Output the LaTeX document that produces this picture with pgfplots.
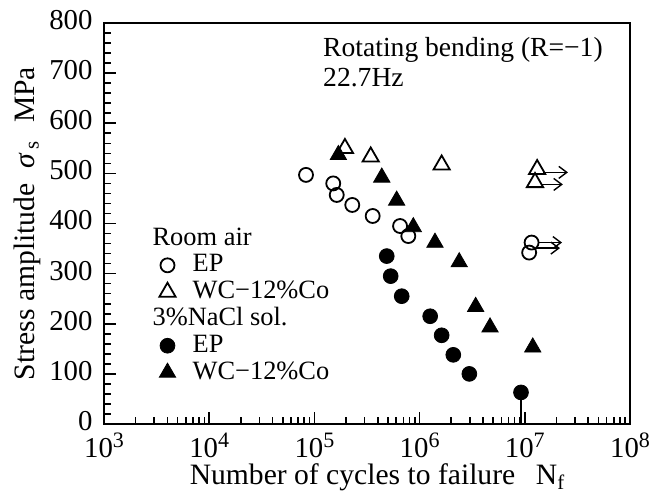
\documentclass[border=0pt]{standalone}
\usepackage{fontspec}
\setmainfont{Liberation Serif}
\usepackage{pgfplots}
\pgfplotsset{compat=1.18}
\usetikzlibrary{arrows.meta}
\newcommand\tp[1]{10\raisebox{5pt}{\fontsize{11}{11}\selectfont #1}}
\newcommand\fnt{\fontsize{13.6}{15}\selectfont}
\newcommand\tfnt{\fontsize{14.4}{16}\selectfont}
\newcommand\lfnt{\fontsize{14.8}{17}\selectfont}
\begin{document}
\fnt
\begin{tikzpicture}
\path[use as bounding box] (-52pt,-34.5pt) rectangle (277pt,212pt);
\begin{axis}[
  at={(0pt,0pt)}, anchor=south west,
  scale only axis, width=263pt, height=200.5pt,
  xmode=log, xmin=1e3, xmax=1e8, ymin=0, ymax=800,
  xtick={1e3,1e4,1e5,1e6,1e7,1e8},
  xticklabels={\tp{3},\tp{4},\tp{5},\tp{6},\tp{7},\tp{8}},
  ytick={0,100,...,800}, minor y tick num=4,
  tick pos=left, tick align=inside,
  major tick length=6pt, minor tick length=3.5pt,
  axis line style={line width=1pt},
  every tick/.style={black, line width=0.8pt},
  ticklabel style={font=\tfnt},
  xticklabel style={yshift=0.3pt},
  yticklabel style={yshift=1.5pt, xshift=-1pt},
  /pgf/number format/assume math mode=true,
  every axis y label/.style={at={(axis description cs:-0.146,0.5)}, rotate=90, anchor=center, font=\lfnt},
  every axis x label/.style={at={(axis description cs:0.52,-0.151)}, anchor=base, inner sep=1pt, font=\lfnt},
  ylabel={Stress amplitude\hspace{0.5em}\textit{σ}\textsubscript{\,s}\hspace{0.6em}MPa},
  xlabel={Number of cycles to failure\hspace{0.7em}N\textsubscript{f}},
  legend style={at={(0.0875,0.497)}, anchor=north west, draw=none, fill=none, inner sep=0pt,
     column sep=7.5pt,
     nodes={inner sep=1pt, text height=9pt, text depth=2.4pt}, font=\fontsize{13.2}{15}\selectfont},
  legend cell align=left,
]
\addlegendimage{empty legend}\addlegendentry{\hspace*{-20pt}Room air}
\addplot[only marks, mark=o, mark size=3.5pt, mark options={line width=0.9pt, black}] coordinates {
 (8.32e4,497) (1.51e5,480) (1.63e5,457) (2.29e5,437) (3.58e5,415) (6.52e5,395) (7.81e5,375)
 (1.16e7,362) (1.10e7,342)};
\addlegendentry{EP}
\addplot[only marks, mark=triangle, mark size=4.7pt, mark options={line width=0.9pt, black}] coordinates {
 (1.95e5,550) (3.43e5,533) (1.62e6,517) (1.31e7,508) (1.25e7,482)};
\addlegendentry{WC−12\%Co}
\addlegendimage{empty legend}\addlegendentry{\hspace*{-20pt}3\%NaCl sol.}
\addplot[only marks, mark=*, mark size=3.7pt, mark options={black, fill=black}] coordinates {
 (4.87e5,335) (5.31e5,295) (6.76e5,255) (1.26e6,215) (1.62e6,177) (2.09e6,138) (2.97e6,100) (9.2e6,63)};
\addlegendentry{EP}
\addplot[only marks, mark=triangle*, mark size=4.7pt, mark options={black, fill=black}] coordinates {
 (1.69e5,537) (4.37e5,492) (6.05e5,446) (8.71e5,393) (1.40e6,362) (2.38e6,323) (3.41e6,234) (4.67e6,193) (1.19e7,153)};
\addlegendentry{WC−12\%Co}
\draw[line width=0.8pt] (axis cs:9.2e6,0) -- (axis cs:9.2e6,63);
\begin{scope}[line width=0.7pt, -{Straight Barb[length=4pt,width=6pt]}]
\draw (axis cs:1.49e7,502) -- (axis cs:2.57e7,502);
\draw (axis cs:1.43e7,478) -- (axis cs:2.30e7,478);
\draw (axis cs:1.36e7,362) -- (axis cs:2.26e7,362);
\draw (axis cs:1.28e7,351) -- (axis cs:2.16e7,351);
\end{scope}
\node[anchor=west, inner sep=0pt, font=\fontsize{13.8}{15}\selectfont] at (rel axis cs:0.416,0.933) {Rotating bending (R=−1)};
\node[anchor=west, inner sep=0pt, font=\fontsize{13.8}{15}\selectfont] at (rel axis cs:0.416,0.865) {22.7Hz};
\end{axis}
\end{tikzpicture}
\end{document}
